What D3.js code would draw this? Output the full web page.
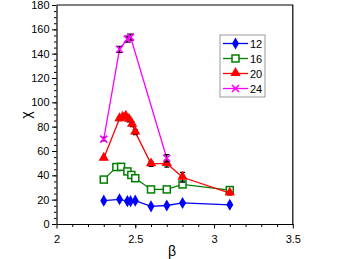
<!DOCTYPE html>
<html>
<head>
<meta charset="utf-8">
<script src="https://cdn.jsdelivr.net/npm/d3@7"></script>
<style>
  body { margin: 0; background: #fff; }
  svg { display: block; }
  text { font-family: "Liberation Sans", Arial, sans-serif; }
</style>
</head>
<body>
<div id="chart"></div>
<script>
var width = 347, height = 259;

// data
var beta12 = [2.30, 2.40, 2.45, 2.47, 2.50, 2.60, 2.70, 2.80, 3.10];
var chi12  = [19.2, 20.3, 18.8, 18.8, 19.2, 14.5, 15.2, 17.3, 15.8];
var err12  = [0.6, 0.6, 0.6, 0.6, 0.6, 0.6, 0.6, 0.6, 0.6];

var beta16 = [2.30, 2.38, 2.41, 2.45, 2.475, 2.50, 2.60, 2.70, 2.80, 3.10];
var chi16  = [36.5, 46.8, 47.0, 43.2, 40.3, 37.6, 28.4, 28.4, 32.5, 27.9];
var err16  = [0.8, 1, 1, 1, 1, 1, 1, 1, 1, 1];

var beta20 = [2.30, 2.40, 2.42, 2.44, 2.46, 2.48, 2.50, 2.60, 2.70, 2.80, 3.10];
var chi20  = [54.0, 86.5, 87.8, 88.6, 86.0, 82.0, 75.5, 49.4, 49.8, 38.4, 25.4];
var err20  = [1.2, 1.5, 1.5, 1.5, 2, 2, 2, 2, 3, 4, 1.5];

var beta24 = [2.30, 2.40, 2.45, 2.47, 2.70];
var chi24  = [69.8, 143.6, 152.0, 153.6, 54.0];
var err24  = [1.5, 2.5, 2.5, 2.5, 3];

var seriesNames  = ["12", "16", "20", "24"];
var seriesColors = ["#0000ff", "#008000", "#ff0000", "#ff00ff"];
var xTicks = [2, 2.5, 3, 3.5];
var yTicks = [0, 20, 40, 60, 80, 100, 120, 140, 160, 180];

var series = [
  {name: seriesNames[0], color: seriesColors[0], shape: "diamond", b: beta12, c: chi12, e: err12},
  {name: seriesNames[1], color: seriesColors[1], shape: "square",  b: beta16, c: chi16, e: err16},
  {name: seriesNames[2], color: seriesColors[2], shape: "triangle",b: beta20, c: chi20, e: err20},
  {name: seriesNames[3], color: seriesColors[3], shape: "cross",   b: beta24, c: chi24, e: err24}
];

var x = d3.scaleLinear().domain([2, 3.5]).range([56.5, 292.8]);
var y = d3.scaleLinear().domain([0, 180]).range([224, 5]);

var svg = d3.select("#chart").append("svg")
  .attr("width", width)
  .attr("height", height);

// frame (top and right)
svg.append("path")
  .attr("d", "M" + x(2) + "," + y(180) + "H" + x(3.5) + "V" + y(0))
  .attr("fill", "none").attr("stroke", "#000").attr("stroke-width", 1.2);

// minor ticks
svg.append("g")
  .attr("transform", "translate(0," + y(0) + ")")
  .call(d3.axisBottom(x).tickValues(d3.range(21, 35).map(function(v){ return v / 10; })).tickSize(3).tickFormat(""))
  .call(function(g){ g.select(".domain").remove(); });
svg.append("g")
  .attr("transform", "translate(" + x(2) + ",0)")
  .call(d3.axisLeft(y).tickValues(d3.range(5, 180, 5)).tickSize(2.5).tickFormat(""))
  .call(function(g){ g.select(".domain").remove(); });

// major axes
var xAxis = svg.append("g")
  .attr("transform", "translate(0," + y(0) + ")")
  .call(d3.axisBottom(x).tickValues(xTicks).tickSize(4.5).tickSizeOuter(0).tickPadding(7).tickFormat(d3.format("")));
var yAxis = svg.append("g")
  .attr("transform", "translate(" + x(2) + ",0)")
  .call(d3.axisLeft(y).tickValues(yTicks).tickSize(4.5).tickSizeOuter(0).tickPadding(2.5));

[xAxis, yAxis].forEach(function(g) {
  g.selectAll("text").attr("font-size", 11).attr("fill", "#000")
    .attr("font-family", "'Liberation Sans', Arial, sans-serif");
  g.select(".domain").attr("stroke-width", 1.2);
});
svg.selectAll(".tick line").attr("stroke", "#000").attr("stroke-width", 1);

// axis titles
svg.append("text")
  .attr("x", 172).attr("y", 256)
  .attr("text-anchor", "middle")
  .attr("font-family", "'Liberation Serif', serif")
  .attr("font-size", 14)
  .text("β");
svg.append("text")
  .attr("transform", "translate(31,115) rotate(-90)")
  .attr("text-anchor", "middle")
  .attr("font-family", "'Liberation Serif', serif")
  .attr("font-size", 14)
  .text("χ");

function drawMarker(g, shape, color, cx, cy) {
  if (shape === "diamond") {
    g.append("path").attr("d", d3.symbol(d3.symbolDiamond, 42)())
      .attr("transform", "translate(" + cx + "," + cy + ")")
      .attr("fill", color);
  } else if (shape === "square") {
    g.append("rect").attr("x", cx - 3.5).attr("y", cy - 3.5).attr("width", 7).attr("height", 7)
      .attr("fill", "#fff").attr("stroke", color).attr("stroke-width", 1.5);
  } else if (shape === "triangle") {
    g.append("path").attr("d", d3.symbol(d3.symbolTriangle, 46)())
      .attr("transform", "translate(" + cx + "," + (cy - 0.5) + ")")
      .attr("fill", color);
  } else {
    g.append("path").attr("d", "M-3.5,-3.5L3.5,3.5M-3.5,3.5L3.5,-3.5")
      .attr("transform", "translate(" + cx + "," + cy + ")")
      .attr("stroke", color).attr("stroke-width", 1.6).attr("fill", "none");
  }
}

var line = d3.line().x(function(d){ return x(d[0]); }).y(function(d){ return y(d[1]); });

series.forEach(function(s) {
  var pts = s.b.map(function(b, i){ return [b, s.c[i], s.e[i]]; });
  var g = svg.append("g");
  g.append("path").datum(pts)
    .attr("d", line)
    .attr("fill", "none")
    .attr("stroke", s.color)
    .attr("stroke-width", 1.3);
  // error bars
  pts.forEach(function(p) {
    var x0 = x(p[0]);
    g.append("path")
      .attr("d", "M" + x0 + "," + y(p[1] - p[2]) + "V" + y(p[1] + p[2]) +
                 "M" + (x0 - 2.5) + "," + y(p[1] - p[2]) + "h5" +
                 "M" + (x0 - 2.5) + "," + y(p[1] + p[2]) + "h5")
      .attr("stroke", "#000").attr("stroke-width", 1.2).attr("fill", "none");
  });
  pts.forEach(function(p) { drawMarker(g, s.shape, s.color, x(p[0]), y(p[1])); });
});

// legend
var lg = svg.append("g");
lg.append("rect").attr("x", 220).attr("y", 35).attr("width", 45).attr("height", 62)
  .attr("fill", "#fff").attr("stroke", "#999").attr("stroke-width", 1);
series.forEach(function(s, i) {
  var yy = 43.5 + i * 15;
  lg.append("line").attr("x1", 223).attr("x2", 248).attr("y1", yy).attr("y2", yy)
    .attr("stroke", s.color).attr("stroke-width", 1.3);
  drawMarker(lg, s.shape, s.color, 235.5, yy);
  lg.append("text").attr("x", 250).attr("y", yy + 4)
    .attr("font-size", 11).attr("fill", "#000").text(s.name);
});
</script>
</body>
</html>
